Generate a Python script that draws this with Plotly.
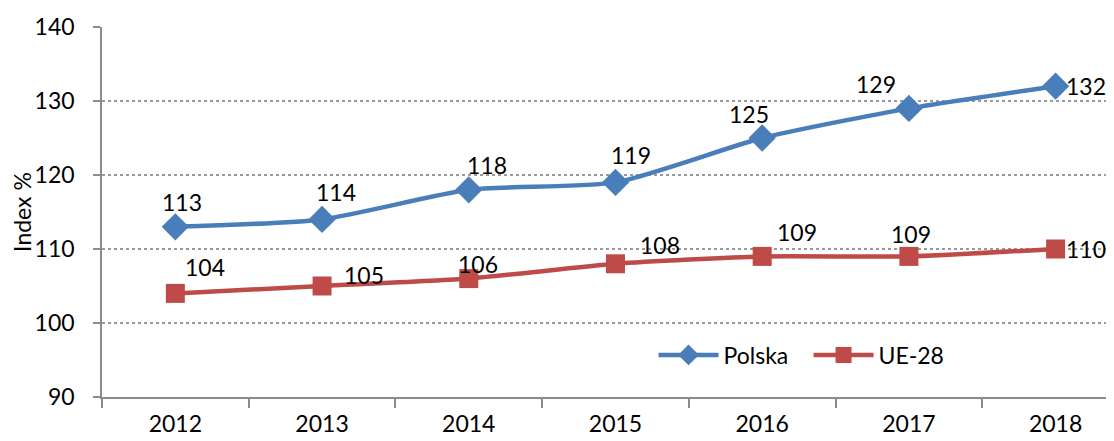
import plotly.graph_objects as go

years = ["2012", "2013", "2014", "2015", "2016", "2017", "2018"]
polska = [113, 114, 118, 119, 125, 129, 132]
ue28 = [104, 105, 106, 108, 109, 109, 110]

# label offsets in pixels (style)
pl_dx = [7, 14, 18, 16, -13, -33, 30]
pl_dy = [25, 27, 25, 27, 24, 24, 0]
ue_dx = [30, 42, 9, 45, 35, 2, 30]
ue_dy = [26, 11, 15, 19, 24, 22, 0]

BLUE = "#4A7EBB"
RED = "#BE4B48"
FONT = "Lato"
FS = 23

fig = go.Figure()
fig.add_trace(go.Scatter(
    x=years, y=polska, name="Polska", mode="lines+markers",
    line=dict(color=BLUE, width=4.5, shape="spline", smoothing=0.6),
    marker=dict(symbol="diamond", size=21, color=BLUE),
    cliponaxis=False,
))
fig.add_trace(go.Scatter(
    x=years, y=ue28, name="UE-28", mode="lines+markers",
    line=dict(color=RED, width=4.5, shape="spline", smoothing=0.6),
    marker=dict(symbol="square", size=19, color=RED),
    cliponaxis=False,
))

annotations = []
for ys, dxs, dys in ((polska, pl_dx, pl_dy), (ue28, ue_dx, ue_dy)):
    for i, (yv, dx, dy) in enumerate(zip(ys, dxs, dys)):
        annotations.append(dict(
            x=i, y=yv, xref="x", yref="y", text=str(yv), showarrow=False,
            xshift=dx, yshift=dy, font=dict(family=FONT, size=FS, color="black"),
        ))

fig.update_layout(
    width=1106, height=433,
    margin=dict(l=94, r=0, t=19, b=44),
    paper_bgcolor="white", plot_bgcolor="white",
    font=dict(family=FONT, size=FS, color="black"),
    annotations=annotations,
    showlegend=True,
    legend=dict(
        orientation="h", x=0.545, xanchor="left", y=0.1135, yanchor="middle",
        bgcolor="rgba(0,0,0,0)", font=dict(family=FONT, size=FS),
        itemwidth=60, tracegroupgap=0, entrywidth=80, entrywidthmode="pixels",
    ),
    xaxis=dict(
        type="category", range=[-0.5, 6.398],
        tickson="boundaries", ticks="outside", ticklen=9, tickcolor="#8C8C8C", tickwidth=1.5,
        showline=True, linecolor="#8C8C8C", linewidth=1.5,
        showgrid=False, tickfont=dict(family=FONT, size=FS), ticklabelstandoff=6,
    ),
    yaxis=dict(
        range=[90, 140], dtick=10, tick0=90,
        ticks="outside", ticklen=7, tickcolor="#8C8C8C", tickwidth=1.5,
        showline=True, linecolor="#8C8C8C", linewidth=1.5,
        showgrid=True, gridcolor="#9A9A9A", gridwidth=1.5, griddash="dot",
        zeroline=False, ticklabelstandoff=14,
        title=dict(text="Index %", font=dict(family=FONT, size=FS), standoff=6),
        tickfont=dict(family=FONT, size=FS),
    ),
)

fig.write_html("out.html")
